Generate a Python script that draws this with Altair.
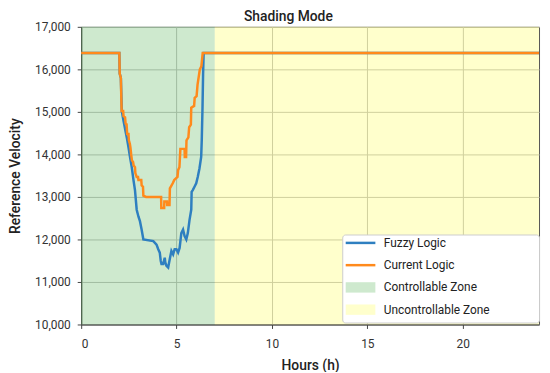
import altair as alt
import pandas as pd

series_names = ["Fuzzy Logic", "Current Logic", "Controllable Zone", "Uncontrollable Zone"]
stroke_colors = ["#2e7fc0", "#ff8a1c", "transparent", "transparent"]
fill_colors = ["transparent", "transparent", "rgba(44,160,44,0.23)", "rgba(255,255,0,0.2)"]
symbol_shapes = ["M-3,0H3", "M-3,0H3", "M-3,-1.05H3V1.05H-3Z", "M-3,-1.05H3V1.05H-3Z"]

zone_names = ["Controllable Zone", "Uncontrollable Zone"]
zone_start = [0, 7]
zone_end = [7, 24]

fuzzy_hours = [0, 2.0, 2.02, 2.08, 2.13, 2.22, 2.30, 2.39, 2.48, 2.56, 2.65, 2.74, 2.82, 2.91,
               3.00, 3.08, 3.17, 3.26, 3.78, 3.95, 4.04, 4.12, 4.17, 4.21, 4.30, 4.38, 4.41,
               4.47, 4.56, 4.64, 4.73, 4.82, 4.90, 4.99, 5.08, 5.16, 5.25, 5.34, 5.42, 5.51,
               5.59, 5.68, 5.77, 5.79, 5.85, 5.94, 6.03, 6.11, 6.20, 6.29, 6.32, 6.36, 6.39,
               6.42, 24]
fuzzy_values = [16384, 16384, 15900, 15800, 15020, 14790, 14600, 14400, 14170, 13940, 13700,
                13400, 13160, 12700, 12540, 12430, 12230, 12000, 11960, 11880, 11770, 11690,
                11500, 11420, 11420, 11570, 11460, 11380, 11340, 11530, 11730, 11650, 11770,
                11770, 11690, 11800, 12150, 12230, 12080, 12000, 12150, 12460, 12700, 13120,
                13160, 13240, 13320, 13470, 13670, 13940, 14330, 15100, 15880, 16384, 16384]

current_hours = [0, 2.0, 2.02, 2.08, 2.12, 2.20, 2.22, 2.30, 2.33, 2.38, 2.41, 2.48, 2.50, 2.55,
                 2.58, 2.62, 2.66, 2.72, 2.75, 2.82, 2.84, 2.91, 2.98, 3.00, 3.15, 3.17, 3.24,
                 3.26, 3.40, 4.19, 4.20, 4.35, 4.36, 4.50, 4.51, 4.63, 4.65, 4.80, 4.88, 5.05,
                 5.08, 5.15, 5.20, 5.42, 5.43, 5.50, 5.52, 5.62, 5.66, 5.75, 5.77, 5.92, 5.95,
                 6.05, 6.10, 6.18, 6.22, 6.30, 6.37, 24]
current_values = [16384, 16384, 15900, 15800, 15020, 15020, 14900, 14870, 14720, 14710, 14480,
                  14480, 14330, 14250, 14170, 14000, 13860, 13820, 13740, 13700, 13560, 13470,
                  13470, 13400, 13400, 13270, 13240, 13030, 13000, 13000, 12740, 12740, 12890,
                  12890, 12810, 12810, 13200, 13320, 13400, 13470, 13630, 13700, 14130, 14130,
                  13940, 13940, 14330, 14400, 14640, 14700, 15100, 15140, 15330, 15370, 15640,
                  15880, 16000, 16070, 16384, 16384]

y_min, y_max = 10000, 17000
x_min, x_max = 0, 24
x_ticks = [0, 5, 10, 15, 20]
y_ticks = [10000, 11000, 12000, 13000, 14000, 15000, 16000, 17000]

lines_df = pd.concat([
    pd.DataFrame({"hours": fuzzy_hours, "value": fuzzy_values, "series": "Fuzzy Logic",
                  "idx": range(len(fuzzy_hours))}),
    pd.DataFrame({"hours": current_hours, "value": current_values, "series": "Current Logic",
                  "idx": range(len(current_hours))}),
])
zones_df = pd.DataFrame({"start": zone_start, "end": zone_end, "series": zone_names,
                         "lo": [y_min] * 2, "hi": [y_max] * 2})
# legend-only keys, placed outside the domain and clipped away
keys_df = pd.DataFrame({"series": series_names, "hours": [x_min - 100] * 4,
                        "value": [y_min - 10000] * 4})

legend = alt.Legend(
    title=".", titleOrient="right", titleOpacity=0, titlePadding=44,
    orient="none", legendX=264, legendY=210,
    fillColor="white", strokeColor="#cccccc", cornerRadius=3, padding=2,
    labelFont="Roboto", labelFontSize=12, labelColor="#222222",
    symbolSize=100, symbolOffset=10, labelOffset=17, rowPadding=1.5, gridAlign="all",
    symbolStrokeWidth=2.5, symbolOpacity=1,
)
stroke_scale = alt.Scale(domain=series_names, range=stroke_colors)
fill_scale = alt.Scale(domain=series_names, range=fill_colors)
shape_scale = alt.Scale(domain=series_names, range=symbol_shapes)

x_scale = alt.Scale(domain=[x_min, x_max], nice=False)
y_scale = alt.Scale(domain=[y_min, y_max], nice=False)

zones = alt.Chart(zones_df).mark_rect().encode(
    x=alt.X("start:Q", scale=x_scale,
            axis=alt.Axis(title="Hours (h)", values=x_ticks, labelPadding=10, titlePadding=10)),
    x2="end:Q",
    y=alt.Y("lo:Q", scale=y_scale,
            axis=alt.Axis(title="Reference Velocity", values=y_ticks, format=",d",
                          labelPadding=7, titlePadding=12)),
    y2="hi:Q",
    fill=alt.Fill("series:N", scale=fill_scale, legend=legend),
)

lines = alt.Chart(lines_df).mark_line(strokeWidth=2.5, interpolate="linear").encode(
    x=alt.X("hours:Q", scale=x_scale),
    y=alt.Y("value:Q", scale=y_scale),
    stroke=alt.Stroke("series:N", scale=stroke_scale, legend=legend),
    order=alt.Order("idx:Q"),
    detail="series:N",
)

keys = alt.Chart(keys_df).mark_point(filled=True, clip=True, strokeWidth=2.5).encode(
    x=alt.X("hours:Q", scale=x_scale),
    y=alt.Y("value:Q", scale=y_scale),
    fill=alt.Fill("series:N", scale=fill_scale, legend=legend),
    stroke=alt.Stroke("series:N", scale=stroke_scale, legend=legend),
    shape=alt.Shape("series:N", scale=shape_scale, legend=legend),
)

chart = alt.layer(zones, lines, keys).properties(
    width=463, height=301,
    title=alt.Title("Shading Mode", font="Roboto", fontSize=14, fontWeight=500,
                    color="#222222", anchor="middle", dx=-22, offset=-3),
    autosize=alt.AutoSizeParams(type="none"),
    padding={"left": 74, "top": 17, "right": 3, "bottom": 46},
).configure_view(stroke="#555555", strokeWidth=1).configure_axis(
    gridColor="#c4c4c4", gridWidth=1, domainColor="#444444", tickColor="#444444",
    tickSize=4, labelColor="#333333", labelFont="Roboto", labelFontSize=12,
    titleFont="Roboto", titleFontSize=14, titleFontWeight=500, titleColor="#222222",
)

chart.save("out.html", embed_options={"renderer": "svg", "actions": False})
